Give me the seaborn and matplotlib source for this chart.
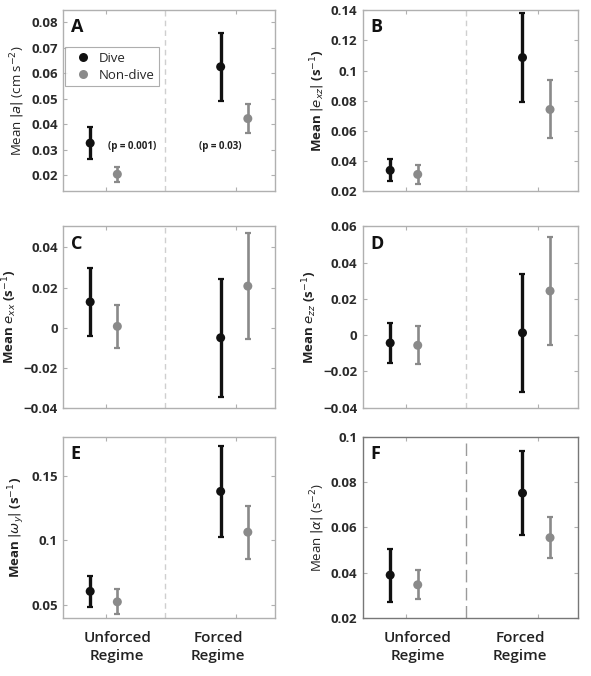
# dive vs non-dive means, unforced vs forced regime (6 panels)

import numpy as np
import pandas as pd
import matplotlib.pyplot as plt
import seaborn as sns
from matplotlib.ticker import FuncFormatter, FixedLocator
from matplotlib.transforms import blended_transform_factory

regimes = ['Unforced', 'Forced']
groups = ['Dive', 'Non-dive']
panels = ['A', 'B', 'C', 'D', 'E', 'F']

# means and error bar half widths, order = [unforced, forced]
dive_mean = {'A': [0.0326, 0.0625], 'B': [0.0339, 0.1086], 'C': [0.0128, -0.0051],
             'D': [-0.0043, 0.0013], 'E': [0.0603, 0.1383], 'F': [0.0389, 0.0751]}
dive_err = {'A': [0.0062, 0.0133], 'B': [0.0073, 0.0293], 'C': [0.0169, 0.0295],
            'D': [0.0110, 0.0327], 'E': [0.0120, 0.0357], 'F': [0.0117, 0.0185]}
nondive_mean = {'A': [0.0204, 0.0422], 'B': [0.0312, 0.0742], 'C': [0.0006, 0.0207],
                'D': [-0.0056, 0.0244], 'E': [0.0521, 0.1065], 'F': [0.0346, 0.0554]}
nondive_err = {'A': [0.0030, 0.0058], 'B': [0.0063, 0.0192], 'C': [0.0109, 0.0264],
               'D': [0.0104, 0.0298], 'E': [0.0097, 0.0206], 'F': [0.0064, 0.0091]}

ylabels = {'A': r'Mean $|a|$ (cm s$^{-2}$)',
           'B': r'Mean $|e_{xz}|$ (s$^{-1}$)',
           'C': r'Mean $e_{xx}$ (s$^{-1}$)',
           'D': r'Mean $e_{zz}$ (s$^{-1}$)',
           'E': r'Mean $|\omega_y|$ (s$^{-1}$)',
           'F': r'Mean $|\alpha|$ (s$^{-2}$)'}
ylims = {'A': (0.0137, 0.0847), 'B': (0.02, 0.14), 'C': (-0.04, 0.0505),
         'D': (-0.04, 0.06), 'E': (0.0396, 0.181), 'F': (0.02, 0.1)}
yticks = {'A': [0.02, 0.03, 0.04, 0.05, 0.06, 0.07, 0.08],
          'B': [0.02, 0.04, 0.06, 0.08, 0.1, 0.12, 0.14],
          'C': [-0.04, -0.02, 0, 0.02, 0.04],
          'D': [-0.04, -0.02, 0, 0.02, 0.04, 0.06],
          'E': [0.05, 0.1, 0.15],
          'F': [0.02, 0.04, 0.06, 0.08, 0.1]}
p_texts = ['(p = 0.001)', '(p = 0.03)']
p_y = 0.0314

sns.set_style('white')
plt.rcParams['font.family'] = ['Open Sans', 'DejaVu Sans']
plt.rcParams['mathtext.fontset'] = 'dejavusans'

colors = {'Dive': '#111111', 'Non-dive': '#8a8a8a'}
centers = [0.2, 0.815]
offs = {'Dive': -0.073, 'Non-dive': 0.055}

fig = plt.figure(figsize=(5.91, 6.76), dpi=100)
lefts = [0.107, 0.614]
widths = [0.359, 0.364]
bottoms = [0.717, 0.397, 0.086]
height = 0.268


def fmt(v, pos):
    s = f'{round(v, 4):g}'
    if s == '-0':
        s = '0'
    return s.replace('-', '\u2212')


for i, p in enumerate(panels):
    r, c = divmod(i, 2)
    ax = fig.add_axes([lefts[c], bottoms[r], widths[c], height])

    rows = []
    for g, m, e in [('Dive', dive_mean[p], dive_err[p]), ('Non-dive', nondive_mean[p], nondive_err[p])]:
        for k, reg in enumerate(regimes):
            rows.append({'regime': reg, 'group': g, 'x': centers[k] + offs[g],
                         'mean': m[k], 'err': e[k]})
    d = pd.DataFrame(rows)

    for g in groups:
        sub = d[d['group'] == g]
        ax.errorbar(sub['x'], sub['mean'], yerr=sub['err'], fmt='none',
                    ecolor=colors[g], elinewidth=2.4 if g == 'Dive' else 1.9,
                    capsize=2.2, capthick=1.6, zorder=2)
    sns.scatterplot(data=d, x='x', y='mean', hue='group', palette=colors,
                    hue_order=groups, s=42, edgecolor='none', ax=ax,
                    legend=(p == 'A'), zorder=3)

    if p == 'F':
        ax.axvline(0.48, color='#9a9a9a', lw=1.0, dashes=(9, 4))
    else:
        ax.axvline(0.48, color='#cfcfcf', lw=1.0, dashes=(4, 3))

    ax.set_xlim(0, 1)
    ax.set_ylim(*ylims[p])
    ax.xaxis.set_major_locator(FixedLocator(centers))
    ax.yaxis.set_major_locator(FixedLocator(yticks[p]))
    ax.yaxis.set_major_formatter(FuncFormatter(fmt))
    ax.set_xticklabels([])
    ax.tick_params(axis='both', direction='in', length=3, color='#b0b0b0',
                   top=True, right=True, bottom=True, left=True,
                   labelsize=9.5, pad=4)
    for lab in ax.get_yticklabels():
        lab.set_fontweight('bold')
        lab.set_color('#2a2a2a')
    for sp in ax.spines.values():
        sp.set_color('#b0b0b0' if p != 'F' else '#777777')
        sp.set_linewidth(1.0)

    ax.set_xlabel('')
    bold = p not in ('A', 'F')
    ax.set_ylabel(ylabels[p], fontsize=9.5, fontweight='bold' if bold else 'normal',
                  color='#222222', labelpad=3)

    ax.text(0.035, 0.955, p, transform=ax.transAxes, ha='left', va='top',
            fontsize=13, fontweight='bold', color='#111111')

    if p == 'A':
        sns.move_legend(ax, 'upper left', bbox_to_anchor=(0.01, 0.795), title=None,
                        frameon=True, fancybox=False, edgecolor='#9a9a9a',
                        fontsize=9.5, handletextpad=0.2, borderpad=0.35,
                        labelspacing=0.3, borderaxespad=0)
        ax.get_legend().get_frame().set_linewidth(0.8)
        for k, t in enumerate(p_texts):
            ax.text([0.325, 0.74][k], p_y, t, ha='center', va='center',
                    fontsize=7, fontweight='bold', color='#222222')

    if r == 2:
        tr = blended_transform_factory(ax.transData, ax.transAxes)
        for k, reg in enumerate(regimes):
            ax.text([0.255, 0.73][k], -0.07, reg + '\nRegime', transform=tr,
                    ha='center', va='top', fontsize=11, fontweight='semibold',
                    color='#222222', linespacing=1.4)

plt.savefig('out.png', dpi=100)
